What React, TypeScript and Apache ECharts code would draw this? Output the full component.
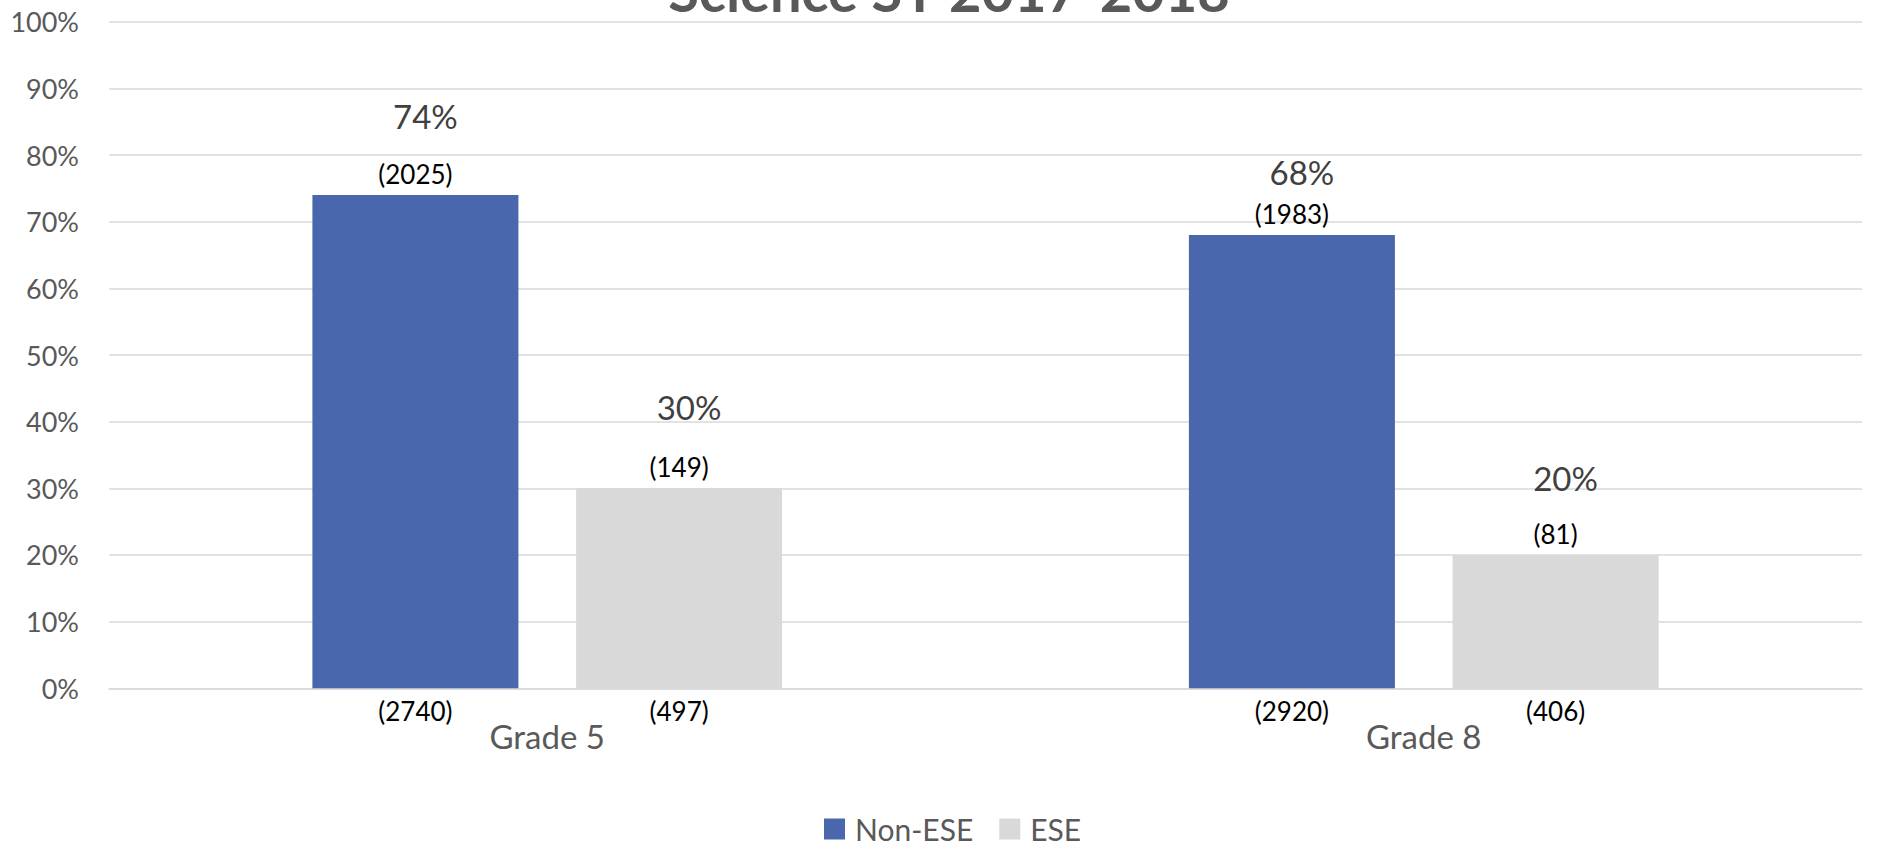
import React, { useEffect, useRef } from "react";
import * as echarts from "echarts";

const titleText = "Science SY 2017-2018";
const categories = ["Grade 5", "Grade 8"];
const seriesNames = ["Non-ESE", "ESE"];
const nonEsePct = [74, 68];
const esePct = [30, 20];
const nonEsePassCount = [2025, 1983];
const esePassCount = [149, 81];
const nonEseTotal = [2740, 2920];
const eseTotal = [497, 406];
const yTicks = [0, 10, 20, 30, 40, 50, 60, 70, 80, 90, 100];

// label placement (pixels above bar top for the percentage labels)
const nonEsePctLift = [63, 47];
const esePctLift = [65, 60];

const FONT = "Lato, 'Open Sans', sans-serif";
const BLUE = "#4A66AC";
const GRAY = "#D9D9D9";
const TEXT = "#595959";

function buildGroup(
  name: string,
  stack: string,
  color: string,
  pct: number[],
  passCount: number[],
  total: number[],
  lift: number[]
) {
  return [
    {
      name,
      type: "bar",
      stack,
      barWidth: 206,
      barGap: "28%",
      data: pct,
      itemStyle: { color },
      label: {
        show: true,
        position: "bottom",
        distance: 10,
        fontFamily: FONT,
        fontSize: 26,
        color: "#000000",
        formatter: (p: any) => `(${total[p.dataIndex]})`,
      },
    },
    {
      name: name + " count",
      type: "bar",
      stack,
      barWidth: 206,
      barGap: "28%",
      data: pct.map(() => 0),
      itemStyle: { color: "transparent" },
      label: {
        show: true,
        position: "top",
        distance: 8,
        fontFamily: FONT,
        fontSize: 26,
        color: "#000000",
        formatter: (p: any) => `(${passCount[p.dataIndex]})`,
      },
    },
    {
      name: name + " pct",
      type: "bar",
      stack,
      barWidth: 206,
      barGap: "28%",
      data: pct.map((_, i) => ({
        value: 0,
        label: { distance: lift[i] },
      })),
      itemStyle: { color: "transparent" },
      label: {
        show: true,
        position: "top",
        offset: [10, 0],
        fontFamily: FONT,
        fontSize: 33,
        color: "#404040",
        formatter: (p: any) => `${pct[p.dataIndex]}%`,
      },
    },
  ];
}

export default function App() {
  const ref = useRef<HTMLDivElement>(null);
  useEffect(() => {
    if (!ref.current) return;
    const chart = echarts.init(ref.current, null, { renderer: "svg" });
    chart.setOption({
      animation: false,
      backgroundColor: "#ffffff",
      textStyle: { fontFamily: FONT },
      grid: { left: 109, right: 16, top: 21.7, bottom: 160.7, containLabel: false },
      legend: {
        data: seriesNames,
        left: 824,
        top: 814,
        padding: 0,
        itemWidth: 21,
        itemHeight: 21,
        itemGap: 26,
        icon: "rect",
        textStyle: {
          fontFamily: FONT,
          fontSize: 30,
          color: TEXT,
          lineHeight: 30,
          padding: [0, 0, 0, 5],
        },
      },
      xAxis: {
        type: "category",
        data: categories,
        axisTick: { show: false },
        axisLine: { lineStyle: { color: GRAY, width: 1.5 } },
        axisLabel: { fontFamily: FONT, fontSize: 33, color: TEXT, margin: 31 },
      },
      yAxis: {
        type: "value",
        min: yTicks[0],
        max: yTicks[yTicks.length - 1],
        interval: yTicks[1] - yTicks[0],
        axisLine: { show: false },
        axisTick: { show: false },
        splitLine: { lineStyle: { color: GRAY, width: 1.5 } },
        axisLabel: {
          fontFamily: FONT,
          fontSize: 27,
          color: TEXT,
          margin: 30,
          formatter: "{value}%",
        },
      },
      graphic: [
        {
          type: "text",
          x: 949,
          y: -10,
          style: {
            text: titleText,
            fontFamily: FONT,
            fontSize: 56,
            fontWeight: "bold",
            fill: TEXT,
            align: "center",
            verticalAlign: "middle",
          },
        },
      ],
      series: [
        ...buildGroup(seriesNames[0], "ne", BLUE, nonEsePct, nonEsePassCount, nonEseTotal, nonEsePctLift),
        ...buildGroup(seriesNames[1], "e", GRAY, esePct, esePassCount, eseTotal, esePctLift),
      ],
    });
    return () => chart.dispose();
  }, []);
  return (
    <div
      ref={ref}
      style={{ position: "absolute", left: 0, top: 0, width: 1878, height: 849 }}
    />
  );
}
